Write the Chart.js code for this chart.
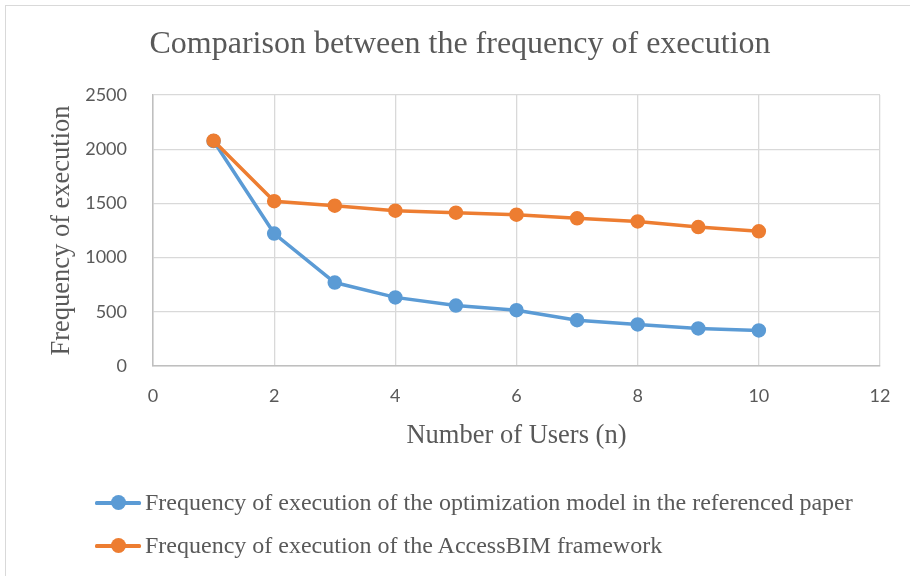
<!DOCTYPE html>
<html>
<head>
  <script src="https://cdn.jsdelivr.net/npm/chart.js@4.4.1/dist/chart.umd.min.js"></script>
  <style>
    body { margin: 0; width: 910px; height: 576px; overflow: hidden; background: #fff; position: relative; }
    .frame { position: absolute; left: 5px; top: 5px; width: 940px; height: 620px; border: 1px solid #d9d9d9; }
    #chartCanvas { position: absolute; left: 0; top: 0; }
    .legend { position: absolute; left: 95px; top: 481px; font-family: "Liberation Serif", serif; font-size: 24px; color: #595959; }
    .legendItem { height: 43px; display: flex; align-items: center; white-space: nowrap; }
    .marker { position: relative; width: 46px; height: 15px; margin-right: 4px; }
    .marker .ln { position: absolute; left: 0; right: 0; top: 6px; height: 3.5px; border-radius: 1.5px; }
    .marker .dot { position: absolute; left: 15.5px; top: 0; width: 15px; height: 15px; border-radius: 50%; }
  </style>
</head>
<body>
  <div class="frame"></div>
  <canvas id="chartCanvas" width="910" height="576"></canvas>
  <div class="legend" id="legend"></div>

  <script>
    const users = [1, 2, 3, 4, 5, 6, 7, 8, 9, 10];
    const referencedPaper = [2075, 1222, 770, 633, 558, 515, 423, 383, 347, 328];
    const accessBIM = [2078, 1520, 1479, 1433, 1414, 1396, 1362, 1334, 1282, 1242];
    const seriesNames = [
      'Frequency of execution of the optimization model in the referenced paper',
      'Frequency of execution of the AccessBIM framework'
    ];
    const seriesColors = ['#5B9BD5', '#ED7D31'];

    const gray = '#595959';

    function toPoints(values) {
      return values.map((v, i) => ({ x: users[i], y: v }));
    }

    const ctx = document.getElementById('chartCanvas').getContext('2d');

    const chart = new Chart(ctx, {
      type: 'line',
      data: {
        datasets: [
          {
            label: seriesNames[0],
            data: toPoints(referencedPaper),
            borderColor: seriesColors[0],
            backgroundColor: seriesColors[0],
            order: 2
          },
          {
            label: seriesNames[1],
            data: toPoints(accessBIM),
            borderColor: seriesColors[1],
            backgroundColor: seriesColors[1],
            order: 1
          }
        ]
      },
      options: {
        responsive: false,
        animation: false,
        layout: { padding: { left: 40, right: 30, top: 0, bottom: 124 } },
        elements: {
          line: { borderWidth: 3.5, tension: 0 },
          point: { radius: 6.5, borderWidth: 1.5, hoverRadius: 6.5 }
        },
        plugins: {
          legend: { display: false },
          tooltip: { enabled: false },
          title: {
            display: true,
            text: 'Comparison between the frequency of execution',
            color: gray,
            font: { family: 'Liberation Serif', size: 32, weight: 'normal' },
            padding: { top: 25, bottom: 31.6 }
          }
        },
        scales: {
          x: {
            type: 'linear',
            min: 0,
            max: 12,
            ticks: { stepSize: 2, color: gray, font: { family: 'Lato', size: 18 }, padding: 19, callback: v => String(v) },
            grid: { color: '#d9d9d9', lineWidth: 1.3, drawTicks: false },
            border: { color: '#bfbfbf', width: 1.5 },
            title: {
              display: true,
              text: 'Number of Users (n)',
              color: gray,
              font: { family: 'Liberation Serif', size: 26.5 },
              padding: { top: 6, bottom: 0 }
            },
            afterFit: s => { s.height = 86; }
          },
          y: {
            min: 0,
            max: 2500,
            ticks: { stepSize: 500, color: gray, font: { family: 'Lato', size: 18 }, padding: 26, callback: v => String(v) },
            grid: { color: '#d9d9d9', lineWidth: 1.3, drawTicks: false },
            border: { color: '#bfbfbf', width: 1.5 },
            title: {
              display: true,
              text: 'Frequency of execution',
              color: gray,
              font: { family: 'Liberation Serif', size: 26.5 },
              padding: { top: 6, bottom: 0 }
            },
            afterFit: s => { s.width = 113; }
          }
        }
      }
    });

    // html legend, built from the chart datasets
    const legendEl = document.getElementById('legend');
    chart.data.datasets.forEach(ds => {
      const item = document.createElement('div');
      item.className = 'legendItem';
      item.innerHTML = '<div class="marker"><div class="ln" style="background:' + ds.borderColor +
        '"></div><div class="dot" style="background:' + ds.borderColor + '"></div></div><span>' + ds.label + '</span>';
      legendEl.appendChild(item);
    });
  </script>
</body>
</html>
